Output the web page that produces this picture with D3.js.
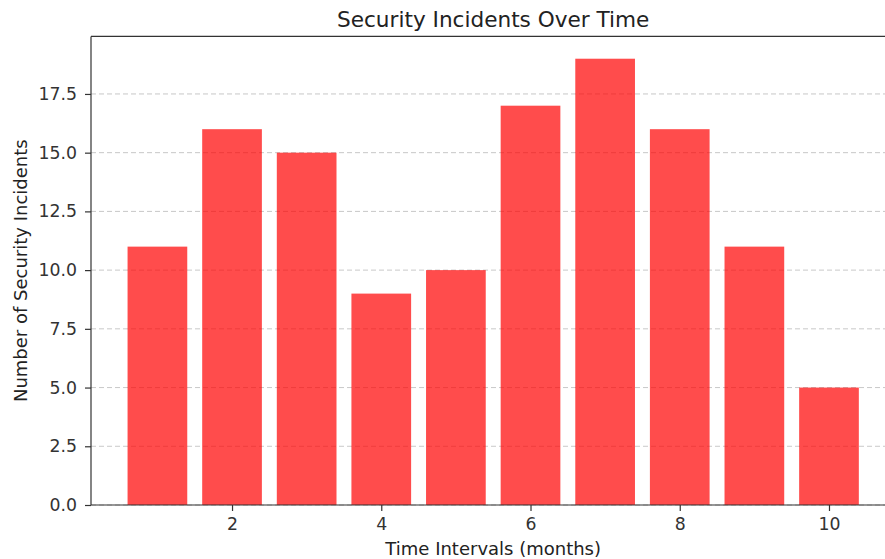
<!DOCTYPE html>
<html><head><meta charset="utf-8">
<script src="https://cdn.jsdelivr.net/npm/d3@7"></script>
<style>body{margin:0;background:#fff}svg{display:block;font-family:"DejaVu Sans",sans-serif}</style>
</head><body>
<svg id="c" width="885" height="559"></svg>
<script>
const months = [1,2,3,4,5,6,7,8,9,10];
const incidents = [11,16,15,9,10,17,19,16,11,5];
const xTicks = [2,4,6,8,10];
const yTicks = [0,2.5,5,7.5,10,12.5,15,17.5];
const title = "Security Incidents Over Time";
const xLabel = "Time Intervals (months)";
const yLabel = "Number of Security Incidents";

const svg = d3.select("#c");
const L = 91, R = 895.4, T = 36.4, B = 505;
const x = d3.scaleLinear().domain([0.11, 10.89]).range([L, R]);
const y = d3.scaleLinear().domain([0, 19.95]).range([B, T]);
const bw = 0.8;

// grid
svg.append("g").selectAll("line").data(yTicks).join("line")
  .attr("x1", L).attr("x2", R).attr("y1", d => y(d)).attr("y2", d => y(d))
  .attr("stroke", "#b0b0b0").attr("stroke-opacity", 0.7).attr("stroke-width", 1)
  .attr("stroke-dasharray", "5,3");

// bars
svg.append("g").selectAll("rect").data(months).join("rect")
  .attr("x", (d) => x(d - bw/2))
  .attr("width", (d) => x(d + bw/2) - x(d - bw/2))
  .attr("y", (d, i) => y(incidents[i]))
  .attr("height", (d, i) => B - y(incidents[i]))
  .attr("fill", "red").attr("fill-opacity", 0.7);

// axes
const xa = svg.append("g").attr("transform", `translate(0,${B})`)
  .call(d3.axisBottom(x).tickValues(xTicks).tickFormat(d3.format("d")).tickSize(6).tickPadding(7).tickSizeOuter(0));
const ya = svg.append("g").attr("transform", `translate(${L},0)`)
  .call(d3.axisLeft(y).tickValues(yTicks).tickFormat(d3.format(".1f")).tickSize(6).tickPadding(8).tickSizeOuter(0));
[xa, ya].forEach(a => {
  a.select(".domain").remove();
  a.selectAll("line").attr("stroke", "#333").attr("stroke-width", 1.2);
  a.selectAll("text").attr("fill", "#333").style("font-size", "17.3px").style("font-family", "DejaVu Sans");
});

// spines
const sp = svg.append("g").attr("stroke", "#333").attr("stroke-width", 1.2).attr("fill", "none");
sp.append("line").attr("x1", L).attr("x2", L).attr("y1", T).attr("y2", B);
sp.append("line").attr("x1", L).attr("x2", R).attr("y1", B).attr("y2", B);
sp.append("line").attr("x1", L).attr("x2", R).attr("y1", T).attr("y2", T);
sp.append("line").attr("x1", R).attr("x2", R).attr("y1", T).attr("y2", B);

// texts
svg.append("text").attr("x", (L+R)/2).attr("y", 27).attr("text-anchor", "middle")
  .attr("fill", "#222").style("font-size", "21.6px").text(title);
svg.append("text").attr("x", (L+R)/2).attr("y", 555).attr("text-anchor", "middle")
  .attr("fill", "#222").style("font-size", "18px").text(xLabel);
svg.append("text").attr("transform", `translate(27,${(T+B)/2}) rotate(-90)`).attr("text-anchor", "middle")
  .attr("fill", "#222").style("font-size", "18px").text(yLabel);
</script>
</body></html>
